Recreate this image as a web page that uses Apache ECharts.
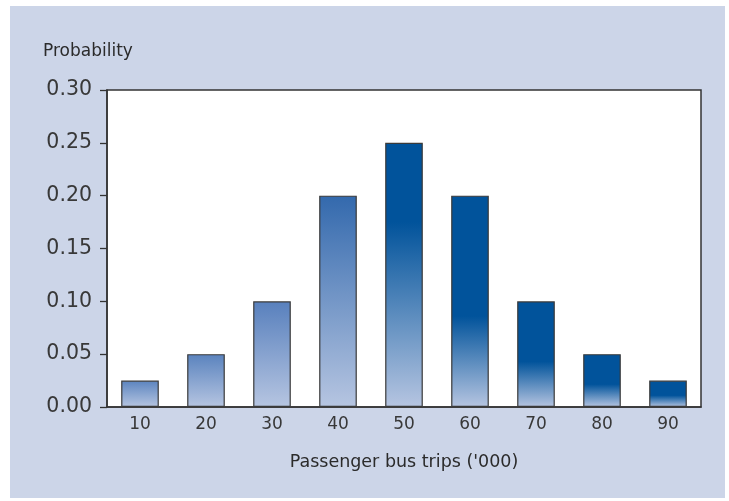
<!DOCTYPE html>
<html>
<head>
<meta charset="utf-8">
<style>
html,body{margin:0;padding:0;background:#ffffff;}
#c{width:729px;height:501px;}
</style>
<script src="https://cdn.jsdelivr.net/npm/echarts@6/dist/echarts.min.js"></script>
</head>
<body>
<div id="c"></div>
<script>
var categories = ['10','20','30','40','50','60','70','80','90'];
var probabilities = [0.025, 0.05, 0.10, 0.20, 0.25, 0.20, 0.10, 0.05, 0.025];
var yTicks = [0, 0.05, 0.10, 0.15, 0.20, 0.25, 0.30];

var DARK = '#01539b', LIGHT = '#b6c5e1';
// per-bar gradient shape (top colour, position of the dark stop from top)
var barShades = [
  {top:'#5b84bf', stop:null},
  {top:'#5a83be', stop:null},
  {top:'#5880bd', stop:null},
  {top:'#3369ad', stop:null},
  {top:DARK, stop:0.30},
  {top:DARK, stop:0.57},
  {top:DARK, stop:0.57},
  {top:DARK, stop:0.57},
  {top:DARK, stop:0.56}
];
function grad(s){
  var stops = [{offset:0,color:s.top}];
  if (s.stop !== null) stops.push({offset:s.stop,color:DARK});
  stops.push({offset:1,color:LIGHT});
  return new echarts.graphic.LinearGradient(0,0,0,1,stops);
}
var barData = probabilities.map(function(v,i){
  return {value:v, itemStyle:{color:grad(barShades[i])}};
});

var chart = echarts.init(document.getElementById('c'));
var font = '"DejaVu Sans", sans-serif';
chart.setOption({
  animation:false,
  backgroundColor:'#ffffff',
  graphic:[{type:'rect', z:-10, shape:{x:10,y:6,width:715,height:492}, style:{fill:'#ccd5e8'}},
           {type:'text', left:43, top:43, style:{text:'Probability', font:'17px ' + font, fill:'#2b2b2b'}}],
  grid:{left:107, right:28, top:90, bottom:94, show:true, backgroundColor:'#ffffff', borderColor:'#333333', borderWidth:1.5},
  xAxis:{
    type:'category', data:categories,
    axisLine:{lineStyle:{color:'#333333', width:1.5}},
    axisTick:{show:false},
    axisLabel:{fontSize:17, color:'#383838', fontFamily:font, margin:9},
    name:"Passenger bus trips ('000)", nameLocation:'middle', nameGap:46,
    nameTextStyle:{fontSize:17.5, color:'#2b2b2b', fontFamily:font}
  },
  yAxis:{
    type:'value', min:0, max:0.30, interval:0.05,
    axisLine:{show:true, lineStyle:{color:'#333333', width:1.5}},
    axisTick:{show:true, inside:false, length:7, lineStyle:{color:'#333333', width:1.3}},
    splitLine:{show:false},
    axisLabel:{fontSize:20.5, color:'#383838', fontFamily:font, margin:15,
      formatter:function(v){return v.toFixed(2);}}
  },
  series:[{
    type:'bar', data:barData, barWidth:'57%',
    itemStyle:{borderColor:'#3a3a3a', borderWidth:1.2}
  }]
});
</script>
</body>
</html>
